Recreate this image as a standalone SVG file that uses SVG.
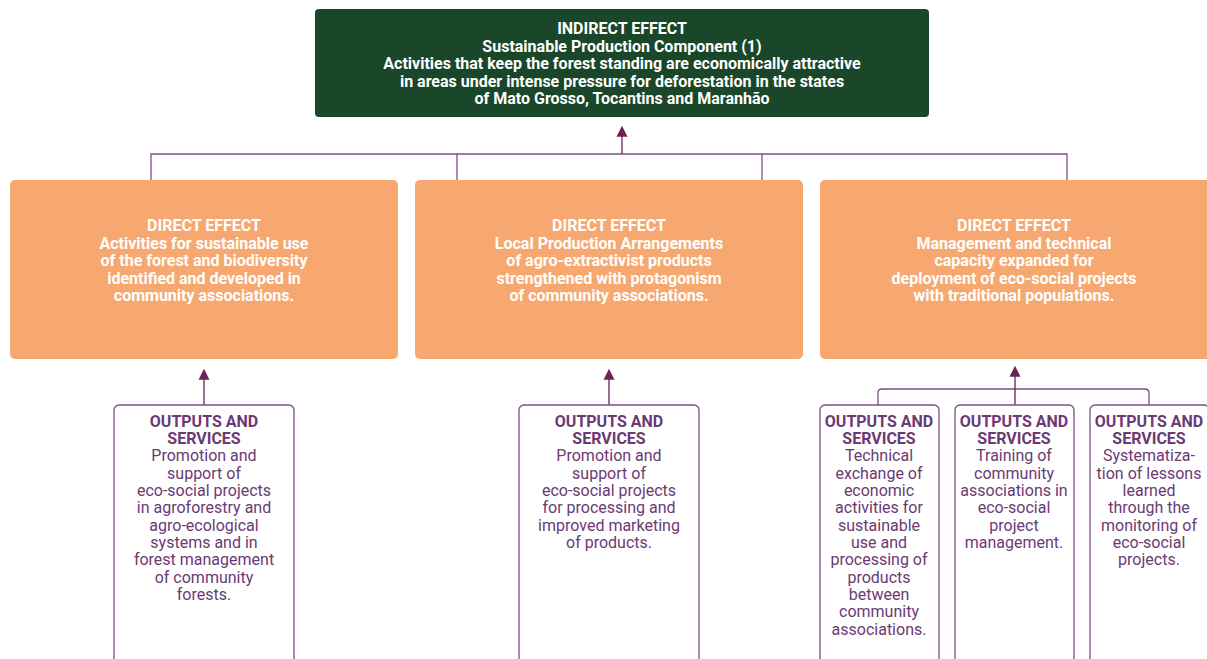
<svg xmlns="http://www.w3.org/2000/svg" width="1207" height="659" viewBox="0 0 1207 659">
<defs>
<marker id="arr" viewBox="0 0 10 10" refX="8" refY="5" markerWidth="11" markerHeight="13" markerUnits="userSpaceOnUse" orient="auto" overflow="visible">
<path d="M0,0 L10,5 L0,10 Z" fill="#6b2358"/>
</marker>
</defs>
<style>
.top{fill:#1a4729}
.de{fill:#f7a870}
.out{fill:#fff;stroke:#7b4f86;stroke-width:1.3}
.tw{font-family:Roboto,"Liberation Sans",sans-serif;font-weight:bold;font-size:16px;fill:#fff;text-anchor:middle}
.tp{font-family:Roboto,"Liberation Sans",sans-serif;font-size:16px;fill:#6b3a73;text-anchor:middle}
.tp .b{font-weight:bold}
.ln{fill:none;stroke:#7b4f86;stroke-width:1.3}
.ar{fill:none;stroke:#6b2358;stroke-width:1.3}
</style>
<g id="connectors">
<path class="ln" d="M151,180 V154 H1067 V180 M457,154 V180 M762,154 V180"/>
<path class="ar" d="M622,154 V128" marker-end="url(#arr)"/>
<path class="ar" d="M204,405 V371" marker-end="url(#arr)"/>
<path class="ar" d="M609,405 V371" marker-end="url(#arr)"/>
<path class="ln" d="M878,405 V393 Q878,389 882,389 H1145 Q1149,389 1149,393 V405"/>
<path class="ar" d="M1015,405 V368" marker-end="url(#arr)"/>
</g>
<g id="indirect">
<rect class="top" x="315" y="9" width="614" height="108" rx="4"/>
<text class="tw"><tspan x="622" y="34">INDIRECT EFFECT</tspan><tspan x="622" y="52">Sustainable Production Component (1)</tspan><tspan x="622" y="69">Activities that keep the forest standing are economically attractive</tspan><tspan x="622" y="87">in areas under intense pressure for deforestation in the states</tspan><tspan x="622" y="104">of Mato Grosso, Tocantins and Maranhão</tspan></text>
</g>
<g id="direct1">
<rect class="de" x="10" y="180" width="388" height="179" rx="5"/>
<text class="tw"><tspan x="204" y="231">DIRECT EFFECT</tspan><tspan x="204" y="249">Activities for sustainable use</tspan><tspan x="204" y="266">of the forest and biodiversity</tspan><tspan x="204" y="284">identified and developed in</tspan><tspan x="204" y="301">community associations.</tspan></text>
</g>
<g id="direct2">
<rect class="de" x="415" y="180" width="388" height="179" rx="5"/>
<text class="tw"><tspan x="609" y="231">DIRECT EFFECT</tspan><tspan x="609" y="249">Local Production Arrangements</tspan><tspan x="609" y="266">of agro-extractivist products</tspan><tspan x="609" y="284">strengthened with protagonism</tspan><tspan x="609" y="301">of community associations.</tspan></text>
</g>
<g id="direct3">
<rect class="de" x="820" y="180" width="392" height="179" rx="5"/>
<text class="tw"><tspan x="1014" y="231">DIRECT EFFECT</tspan><tspan x="1014" y="249">Management and technical</tspan><tspan x="1014" y="266">capacity expanded for</tspan><tspan x="1014" y="284">deployment of eco-social projects</tspan><tspan x="1014" y="301">with traditional populations.</tspan></text>
</g>
<g id="out1">
<rect class="out" x="114" y="405" width="180" height="270" rx="5"/>
<text class="tp"><tspan class="b" x="204" y="427">OUTPUTS AND</tspan><tspan class="b" x="204" y="444">SERVICES</tspan><tspan x="204" y="461">Promotion and</tspan><tspan x="204" y="479">support of</tspan><tspan x="204" y="496">eco-social projects</tspan><tspan x="204" y="513">in agroforestry and</tspan><tspan x="204" y="531">agro-ecological</tspan><tspan x="204" y="548">systems and in</tspan><tspan x="204" y="565">forest management</tspan><tspan x="204" y="583">of community</tspan><tspan x="204" y="600">forests.</tspan></text>
</g>
<g id="out2">
<rect class="out" x="519" y="405" width="180" height="270" rx="5"/>
<text class="tp"><tspan class="b" x="609" y="427">OUTPUTS AND</tspan><tspan class="b" x="609" y="444">SERVICES</tspan><tspan x="609" y="461">Promotion and</tspan><tspan x="609" y="479">support of</tspan><tspan x="609" y="496">eco-social projects</tspan><tspan x="609" y="513">for processing and</tspan><tspan x="609" y="531">improved marketing</tspan><tspan x="609" y="548">of products.</tspan></text>
</g>
<g id="out3">
<rect class="out" x="820" y="405" width="119" height="270" rx="5"/>
<text class="tp"><tspan class="b" x="879" y="427">OUTPUTS AND</tspan><tspan class="b" x="879" y="444">SERVICES</tspan><tspan x="879" y="461">Technical</tspan><tspan x="879" y="479">exchange of</tspan><tspan x="879" y="496">economic</tspan><tspan x="879" y="513">activities for</tspan><tspan x="879" y="531">sustainable</tspan><tspan x="879" y="548">use and</tspan><tspan x="879" y="565">processing of</tspan><tspan x="879" y="583">products</tspan><tspan x="879" y="600">between</tspan><tspan x="879" y="617">community</tspan><tspan x="879" y="635">associations.</tspan></text>
</g>
<g id="out4">
<rect class="out" x="955" y="405" width="119" height="270" rx="5"/>
<text class="tp"><tspan class="b" x="1014" y="427">OUTPUTS AND</tspan><tspan class="b" x="1014" y="444">SERVICES</tspan><tspan x="1014" y="461">Training of</tspan><tspan x="1014" y="479">community</tspan><tspan x="1014" y="496">associations in</tspan><tspan x="1014" y="513">eco-social</tspan><tspan x="1014" y="531">project</tspan><tspan x="1014" y="548">management.</tspan></text>
</g>
<g id="out5">
<rect class="out" x="1090" y="405" width="119" height="270" rx="5"/>
<text class="tp"><tspan class="b" x="1149" y="427">OUTPUTS AND</tspan><tspan class="b" x="1149" y="444">SERVICES</tspan><tspan x="1149" y="461">Systematiza-</tspan><tspan x="1149" y="479">tion of lessons</tspan><tspan x="1149" y="496">learned</tspan><tspan x="1149" y="513">through the</tspan><tspan x="1149" y="531">monitoring of</tspan><tspan x="1149" y="548">eco-social</tspan><tspan x="1149" y="565">projects.</tspan></text>
</g>
</svg>
